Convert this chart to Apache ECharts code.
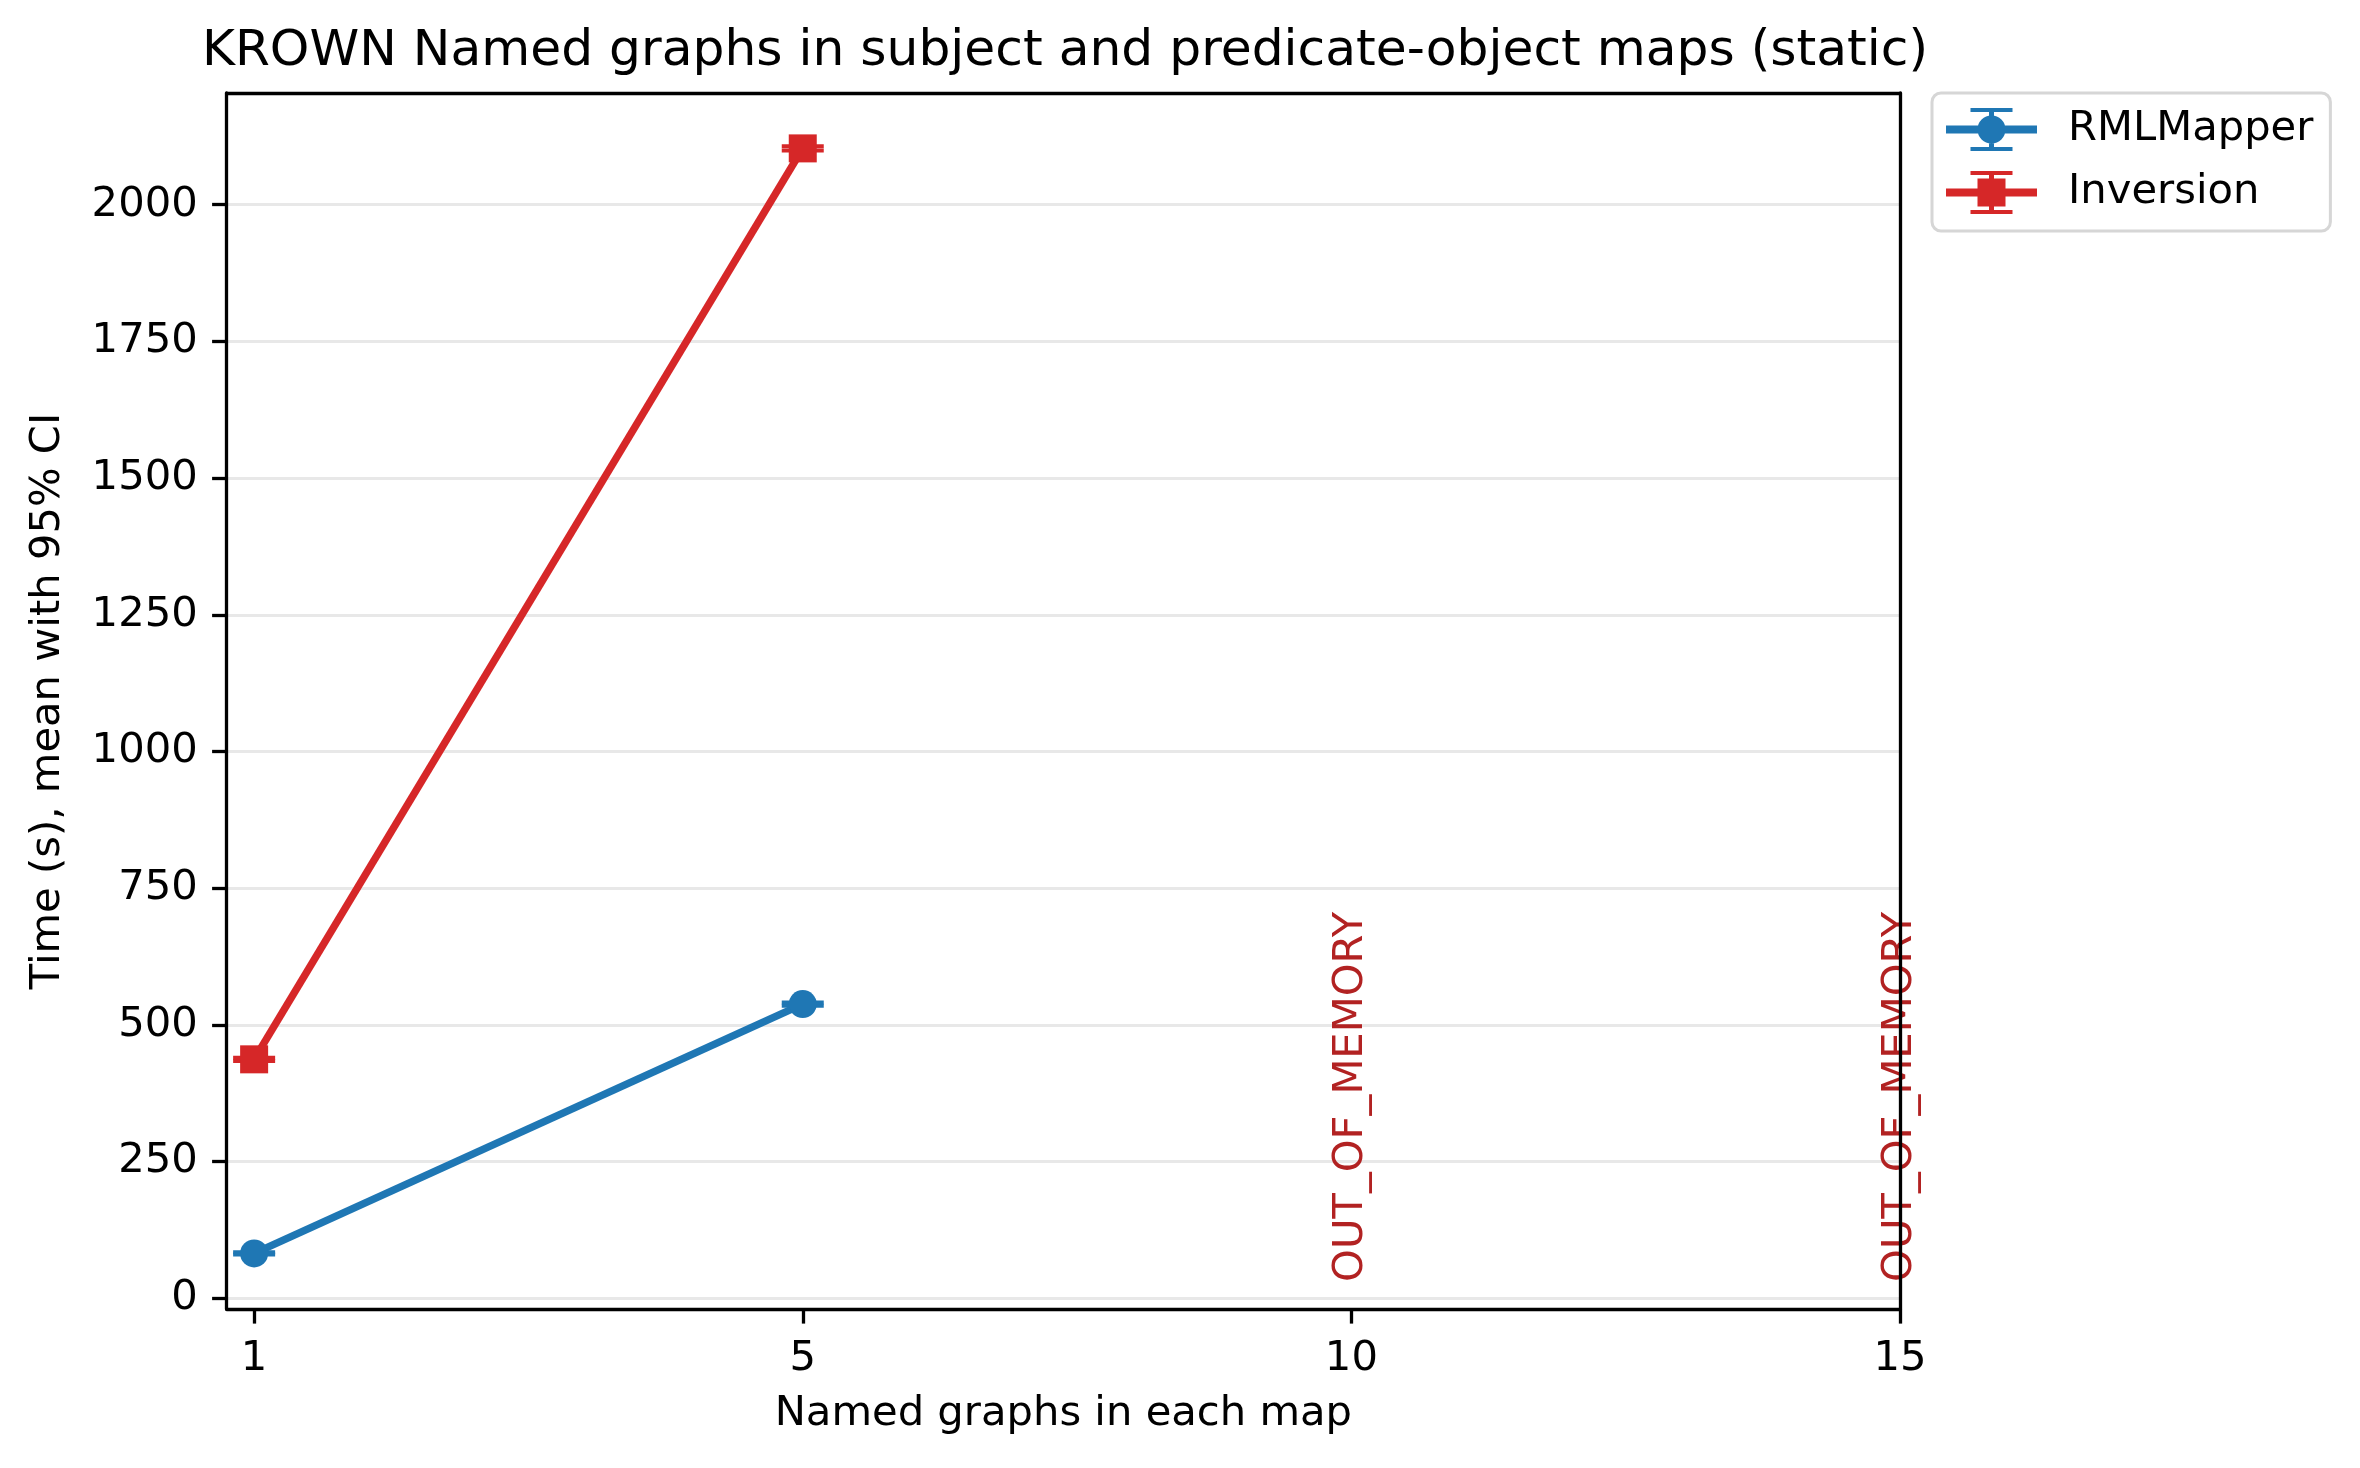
<!DOCTYPE html>
<html lang="en">
<head>
<meta charset="UTF-8">
<title>KROWN named graphs</title>
<style>
    * {
        margin: 0;
        padding: 0;
    }

    html,
    body {
        background: #fff;
    }

    #chart {
        width: 2360px;
        height: 1468px;
    }
</style>
</head>
<body>
<div id="chart"></div>
<script src="https://cdn.jsdelivr.net/npm/echarts@6/dist/echarts.min.js"></script>
<script>
    // x categories, drawn at evenly spaced positions 0..3
    const xLabels = ['1', '5', '10', '15'];
    const yTicks = [0, 250, 500, 750, 1000, 1250, 1500, 1750, 2000];

    // mean time (s) and half width of the 95% CI
    const rmlMean = [82, 538];
    const rmlCi = [2, 3];
    const invMean = [437, 2103];
    const invCi = [3, 4];

    // runs that never finished
    const oomIndex = [2, 3];
    const oomText = 'OUT_OF_MEMORY';

    const font = 'DejaVu Sans';
    const blue = '#1f77b4';
    const red = '#d62728';

    // legend glyphs: line + error bar with caps + marker
    const bar = 'M0 17.5 H91 V25.5 H0 Z M43 0 H48 V43 H43 Z M24.5 0 H66.5 V4 H24.5 Z M24.5 39 H66.5 V43 H24.5 Z ';
    const blueIcon = 'path://' + bar + 'M31.5 21.5 A14 14 0 1 1 59.5 21.5 A14 14 0 1 1 31.5 21.5 Z';
    const redIcon = 'path://' + bar + 'M31.5 7.5 H59.5 V35.5 H31.5 Z';

    function errorBars(color) {
        return function (params, api) {
            const x = api.value(0);
            const lo = api.coord([x, api.value(1)]);
            const hi = api.coord([x, api.value(2)]);
            const w = 21;
            return {
                type: 'group',
                children: [
                    { type: 'line', shape: { x1: lo[0], y1: lo[1], x2: hi[0], y2: hi[1] }, style: { stroke: color, lineWidth: 7 } },
                    { type: 'line', shape: { x1: lo[0] - w, y1: lo[1], x2: lo[0] + w, y2: lo[1] }, style: { stroke: color, lineWidth: 4 } },
                    { type: 'line', shape: { x1: hi[0] - w, y1: hi[1], x2: hi[0] + w, y2: hi[1] }, style: { stroke: color, lineWidth: 4 } }
                ]
            };
        };
    }

    function ciData(mean, ci) {
        return mean.map((m, i) => [i, m - ci[i], m + ci[i]]);
    }

    const labelStyle = { fontFamily: font, fontSize: 41.7, color: '#000' };
    const spine = { show: true, onZero: false, lineStyle: { color: '#000', width: 3.3 } };

    let chart = echarts.init(document.getElementById('chart'));

    const option = {
        animation: false,
        backgroundColor: '#fff',
        title: {
            text: 'KROWN Named graphs in subject and predicate-object maps (static)',
            left: 1060,
            top: 22,
            textAlign: 'center',
            textStyle: { fontFamily: font, fontSize: 50.3, fontWeight: 'normal', color: '#000' }
        },
        legend: {
            orient: 'vertical',
            left: 1932,
            top: 93,
            padding: [15, 17, 17, 14],
            itemWidth: 91,
            itemHeight: 43,
            itemGap: 20,
            borderColor: '#d6d6d6',
            borderWidth: 3,
            borderRadius: 9,
            backgroundColor: '#fff',
            selectedMode: false,
            itemStyle: { borderWidth: 0 },
            textStyle: { fontFamily: font, fontSize: 41.7, color: '#000', lineHeight: 43, padding: [0, 0, 0, 26] },
            data: [
                { name: 'RMLMapper', icon: blueIcon },
                { name: 'Inversion', icon: redIcon }
            ]
        },
        grid: {
            left: 226.7,
            right: 460,
            top: 93,
            bottom: 159
        },
        xAxis: [{
            type: 'value',
            min: -0.05,
            max: 3,
            position: 'bottom',
            axisLine: spine,
            axisTick: { show: true, length: 14.6, lineStyle: { color: '#000', width: 3.3 }, customValues: [0, 1, 2, 3] },
            axisLabel: Object.assign({
                customValues: [0, 1, 2, 3],
                margin: 29,
                formatter: v => xLabels[Math.round(v)]
            }, labelStyle),
            splitLine: { show: false },
            name: 'Named graphs in each map',
            nameLocation: 'middle',
            nameGap: 84,
            nameTextStyle: labelStyle
        }, {
            type: 'value',
            min: -0.05,
            max: 3,
            position: 'top',
            axisLine: spine,
            axisTick: { show: false },
            axisLabel: { show: false },
            splitLine: { show: false }
        }],
        yAxis: [{
            type: 'value',
            min: -19.6,
            max: 2204.3,
            position: 'left',
            axisLine: spine,
            axisTick: { show: true, length: 14.6, lineStyle: { color: '#000', width: 3.3 }, customValues: yTicks },
            axisLabel: Object.assign({ customValues: yTicks, margin: 29, formatter: v => String(v) }, labelStyle),
            splitLine: { show: true, lineStyle: { color: '#e8e8e8', width: 3 } },
            name: 'Time (s), mean with 95% CI',
            nameLocation: 'middle',
            nameGap: 158,
            nameTextStyle: labelStyle
        }, {
            type: 'value',
            min: -19.6,
            max: 2204.3,
            position: 'right',
            z: 5,
            axisLine: spine,
            axisTick: { show: false },
            axisLabel: { show: false },
            splitLine: { show: false }
        }],
        series: [{
            type: 'custom',
            name: 'RMLMapper',
            itemStyle: { color: blue },
            encode: { x: 0, y: [1, 2] },
            renderItem: errorBars(blue),
            data: ciData(rmlMean, rmlCi),
            z: 2
        }, {
            type: 'custom',
            name: 'Inversion',
            itemStyle: { color: red },
            encode: { x: 0, y: [1, 2] },
            renderItem: errorBars(red),
            data: ciData(invMean, invCi),
            z: 2
        }, {
            type: 'line',
            name: 'RMLMapper',
            data: rmlMean.map((v, i) => [i, v]),
            symbol: 'circle',
            symbolSize: 28,
            itemStyle: { color: blue },
            lineStyle: { color: blue, width: 7.5 },
            z: 3
        }, {
            type: 'line',
            name: 'Inversion',
            data: invMean.map((v, i) => [i, v]),
            symbol: 'rect',
            symbolSize: 28,
            itemStyle: { color: red },
            lineStyle: { color: red, width: 7.5 },
            z: 3
        }, {
            type: 'custom',
            name: 'oom',
            encode: { x: 0, y: 1 },
            data: oomIndex.map(i => [i, 30]),
            renderItem: function (params, api) {
                const p = api.coord([api.value(0), api.value(1)]);
                return {
                    type: 'text',
                    x: p[0],
                    y: p[1],
                    rotation: Math.PI / 2,
                    style: {
                        text: oomText,
                        fill: '#b22222',
                        fontFamily: font,
                        fontSize: 41.7,
                        align: 'left',
                        verticalAlign: 'middle'
                    }
                };
            },
            z: 2
        }]
    };

    chart.setOption(option);
</script>
</body>
</html>
